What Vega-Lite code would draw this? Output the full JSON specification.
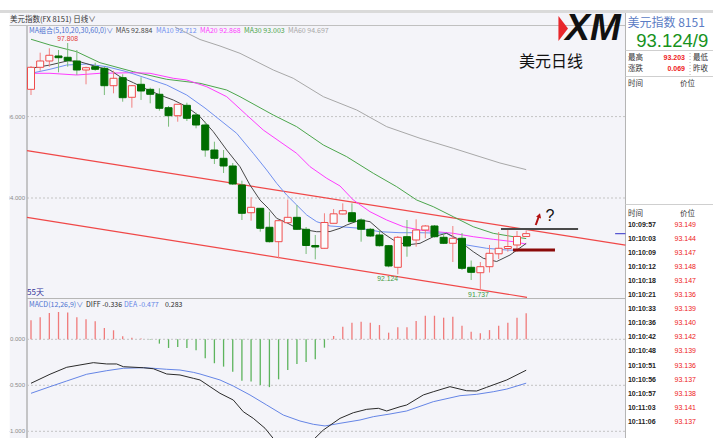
{
"$schema": "https://vega.github.io/schema/vega-lite/v6.json",
"width": 713, "height": 438,
"autosize": {"type": "none"},
"padding": 0,
"background": "#ffffff",
"config": {"view": {"stroke": null}},
"datasets": {
"candles": [
{"i":0,"o":96.670,"h":97.243,"l":96.530,"c":97.211},
{"i":1,"o":97.211,"h":97.570,"l":97.127,"c":97.366},
{"i":2,"o":97.366,"h":97.678,"l":97.226,"c":97.506},
{"i":3,"o":97.489,"h":97.636,"l":97.088,"c":97.447},
{"i":4,"o":97.457,"h":97.808,"l":97.226,"c":97.373},
{"i":5,"o":97.366,"h":97.636,"l":97.022,"c":97.145},
{"i":6,"o":97.145,"h":97.226,"l":96.793,"c":97.201},
{"i":7,"o":97.226,"h":97.324,"l":97.127,"c":97.162},
{"i":8,"o":97.186,"h":97.226,"l":96.530,"c":96.759},
{"i":9,"o":96.759,"h":97.127,"l":96.572,"c":96.941},
{"i":10,"o":96.955,"h":97.039,"l":96.366,"c":96.464},
{"i":11,"o":96.474,"h":96.776,"l":96.218,"c":96.759},
{"i":12,"o":96.793,"h":96.965,"l":96.408,"c":96.629},
{"i":13,"o":96.670,"h":96.710,"l":96.326,"c":96.548},
{"i":14,"o":96.548,"h":96.695,"l":96.145,"c":96.204},
{"i":15,"o":96.218,"h":96.260,"l":95.752,"c":96.022},
{"i":16,"o":96.022,"h":96.309,"l":95.874,"c":96.302},
{"i":17,"o":96.277,"h":96.341,"l":95.892,"c":95.958},
{"i":18,"o":96.039,"h":96.095,"l":95.712,"c":95.793},
{"i":19,"o":95.793,"h":95.874,"l":95.014,"c":95.179},
{"i":20,"o":95.179,"h":95.383,"l":94.835,"c":94.975},
{"i":21,"o":94.975,"h":95.179,"l":94.614,"c":94.786},
{"i":22,"o":94.786,"h":94.860,"l":94.319,"c":94.344},
{"i":23,"o":94.319,"h":94.425,"l":93.459,"c":93.624},
{"i":24,"o":93.638,"h":94.017,"l":93.442,"c":93.771},
{"i":25,"o":93.747,"h":93.754,"l":93.172,"c":93.255},
{"i":26,"o":93.280,"h":93.663,"l":92.906,"c":92.926},
{"i":27,"o":92.926,"h":93.459,"l":92.518,"c":93.442},
{"i":28,"o":93.393,"h":93.963,"l":93.378,"c":93.525},
{"i":29,"o":93.525,"h":93.828,"l":93.213,"c":93.231},
{"i":30,"o":93.231,"h":93.287,"l":92.624,"c":92.833},
{"i":31,"o":92.833,"h":93.091,"l":92.493,"c":92.796},
{"i":32,"o":92.764,"h":93.624,"l":92.759,"c":93.398},
{"i":33,"o":93.378,"h":93.729,"l":93.373,"c":93.611},
{"i":34,"o":93.607,"h":93.869,"l":93.595,"c":93.688},
{"i":35,"o":93.638,"h":93.869,"l":93.410,"c":93.417},
{"i":36,"o":93.459,"h":93.501,"l":92.926,"c":93.231},
{"i":37,"o":93.231,"h":93.263,"l":93.041,"c":93.066},
{"i":38,"o":93.091,"h":93.213,"l":92.808,"c":92.828},
{"i":39,"o":92.828,"h":92.845,"l":92.297,"c":92.329},
{"i":40,"o":92.297,"h":93.066,"l":92.124,"c":93.034},
{"i":41,"o":93.049,"h":93.459,"l":92.557,"c":92.820},
{"i":42,"o":92.968,"h":93.476,"l":92.803,"c":93.213},
{"i":43,"o":93.213,"h":93.336,"l":93.010,"c":93.312},
{"i":44,"o":93.312,"h":93.336,"l":93.029,"c":93.049},
{"i":45,"o":93.034,"h":93.140,"l":92.869,"c":92.887},
{"i":46,"o":92.887,"h":93.312,"l":92.427,"c":93.010},
{"i":47,"o":93.010,"h":93.140,"l":92.231,"c":92.272},
{"i":48,"o":92.297,"h":92.464,"l":91.985,"c":92.174},
{"i":49,"o":92.164,"h":92.427,"l":91.737,"c":92.312},
{"i":50,"o":92.312,"h":92.845,"l":92.169,"c":92.641},
{"i":51,"o":92.629,"h":93.164,"l":92.501,"c":92.764},
{"i":52,"o":92.759,"h":93.255,"l":92.680,"c":92.808},
{"i":53,"o":92.845,"h":93.189,"l":92.680,"c":93.055},
{"i":54,"o":93.055,"h":93.203,"l":93.040,"c":93.124}
],
"ma": [
{"s":"MA60","i":15.7,"p":98.20},{"s":"MA60","i":16.79,"p":98.078},{"s":"MA60","i":18.43,"p":97.894},{"s":"MA60","i":20.61,"p":97.734},{"s":"MA60","i":22.79,"p":97.555},{"s":"MA60","i":26.42,"p":97.145},{"s":"MA60","i":28.6,"p":96.941},{"s":"MA60","i":31.88,"p":96.489},{"s":"MA60","i":35.52,"p":96.162},{"s":"MA60","i":38.79,"p":95.752},{"s":"MA60","i":42.42,"p":95.467},{"s":"MA60","i":46.05,"p":95.221},{"s":"MA60","i":48.96,"p":95.014},{"s":"MA60","i":51.14,"p":94.860},{"s":"MA60","i":54,"p":94.697},
{"s":"MA30","i":0,"p":97.90},{"s":"MA30","i":2.07,"p":97.759},{"s":"MA30","i":4.98,"p":97.594},{"s":"MA30","i":7.52,"p":97.324},{"s":"MA30","i":11.16,"p":97.103},{"s":"MA30","i":14.8,"p":96.916},{"s":"MA30","i":18.43,"p":96.818},{"s":"MA30","i":21.34,"p":96.653},{"s":"MA30","i":22.79,"p":96.489},{"s":"MA30","i":26.42,"p":96.039},{"s":"MA30","i":28.97,"p":95.752},{"s":"MA30","i":31.88,"p":95.302},{"s":"MA30","i":34.43,"p":95.014},{"s":"MA30","i":37.33,"p":94.607},{"s":"MA30","i":39.88,"p":94.277},{"s":"MA30","i":42.06,"p":93.950},{"s":"MA30","i":43.87,"p":93.786},{"s":"MA30","i":46.05,"p":93.540},{"s":"MA30","i":48.23,"p":93.294},{"s":"MA30","i":50.41,"p":93.132},{"s":"MA30","i":52.6,"p":93.049},{"s":"MA30","i":54,"p":93.003},
{"s":"MA20","i":0,"p":97.064},{"s":"MA20","i":2.07,"p":97.064},{"s":"MA20","i":4.98,"p":97.022},{"s":"MA20","i":7.52,"p":97.064},{"s":"MA20","i":11.16,"p":97.078},{"s":"MA20","i":12.98,"p":97.064},{"s":"MA20","i":15.52,"p":96.941},{"s":"MA20","i":16.98,"p":96.899},{"s":"MA20","i":19.16,"p":96.734},{"s":"MA20","i":21.34,"p":96.489},{"s":"MA20","i":23.52,"p":96.039},{"s":"MA20","i":25.33,"p":95.670},{"s":"MA20","i":27.15,"p":95.383},{"s":"MA20","i":28.97,"p":95.098},{"s":"MA20","i":30.43,"p":94.769},{"s":"MA20","i":32.25,"p":94.484},{"s":"MA20","i":33.7,"p":94.295},{"s":"MA20","i":35.15,"p":93.950},{"s":"MA20","i":36.97,"p":93.663},{"s":"MA20","i":38.79,"p":93.459},{"s":"MA20","i":40.6,"p":93.295},{"s":"MA20","i":42.42,"p":93.213},{"s":"MA20","i":44.24,"p":93.171},{"s":"MA20","i":46.05,"p":93.132},{"s":"MA20","i":48.23,"p":93.049},{"s":"MA20","i":50.41,"p":92.985},{"s":"MA20","i":52.6,"p":92.926},{"s":"MA20","i":54,"p":92.868},
{"s":"MA10","i":0,"p":97.064},{"s":"MA10","i":2.07,"p":97.162},{"s":"MA10","i":3.89,"p":97.267},{"s":"MA10","i":6.07,"p":97.292},{"s":"MA10","i":8.26,"p":97.226},{"s":"MA10","i":10.44,"p":97.103},{"s":"MA10","i":12.62,"p":96.941},{"s":"MA10","i":14.8,"p":96.776},{"s":"MA10","i":16.98,"p":96.530},{"s":"MA10","i":18.97,"p":96.211},{"s":"MA10","i":20.61,"p":95.916},{"s":"MA10","i":22.43,"p":95.589},{"s":"MA10","i":24.24,"p":95.098},{"s":"MA10","i":25.7,"p":94.688},{"s":"MA10","i":26.79,"p":94.361},{"s":"MA10","i":27.88,"p":94.073},{"s":"MA10","i":28.97,"p":93.828},{"s":"MA10","i":30.07,"p":93.582},{"s":"MA10","i":31.16,"p":93.417},{"s":"MA10","i":32.61,"p":93.312},{"s":"MA10","i":33.7,"p":93.295},{"s":"MA10","i":35.88,"p":93.255},{"s":"MA10","i":38.06,"p":93.171},{"s":"MA10","i":40.24,"p":93.147},{"s":"MA10","i":42.42,"p":93.147},{"s":"MA10","i":45.33,"p":93.132},{"s":"MA10","i":47.51,"p":92.845},{"s":"MA10","i":49.69,"p":92.764},{"s":"MA10","i":51.88,"p":92.722},{"s":"MA10","i":54,"p":92.712},
{"s":"MA5","i":0,"p":97.186},{"s":"MA5","i":2.07,"p":97.267},{"s":"MA5","i":4.07,"p":97.373},{"s":"MA5","i":5.34,"p":97.348},{"s":"MA5","i":7.16,"p":97.226},{"s":"MA5","i":8.61,"p":97.145},{"s":"MA5","i":9.71,"p":96.980},{"s":"MA5","i":11.16,"p":96.833},{"s":"MA5","i":12.62,"p":96.670},{"s":"MA5","i":14.07,"p":96.530},{"s":"MA5","i":15.52,"p":96.407},{"s":"MA5","i":16.98,"p":96.243},{"s":"MA5","i":18.43,"p":95.997},{"s":"MA5","i":19.88,"p":95.629},{"s":"MA5","i":21.34,"p":95.179},{"s":"MA5","i":22.79,"p":94.769},{"s":"MA5","i":23.88,"p":94.319},{"s":"MA5","i":24.97,"p":93.950},{"s":"MA5","i":25.88,"p":93.746},{"s":"MA5","i":26.79,"p":93.501},{"s":"MA5","i":27.88,"p":93.393},{"s":"MA5","i":28.97,"p":93.262},{"s":"MA5","i":30.07,"p":93.213},{"s":"MA5","i":31.16,"p":93.171},{"s":"MA5","i":32.61,"p":93.176},{"s":"MA5","i":33.7,"p":93.255},{"s":"MA5","i":34.43,"p":93.336},{"s":"MA5","i":35.88,"p":93.459},{"s":"MA5","i":36.97,"p":93.418},{"s":"MA5","i":38.42,"p":93.132},{"s":"MA5","i":39.51,"p":92.968},{"s":"MA5","i":40.97,"p":92.845},{"s":"MA5","i":42.42,"p":92.886},{"s":"MA5","i":43.87,"p":93.049},{"s":"MA5","i":45.33,"p":93.132},{"s":"MA5","i":46.42,"p":93.009},{"s":"MA5","i":47.51,"p":92.803},{"s":"MA5","i":48.23,"p":92.680},{"s":"MA5","i":49.32,"p":92.518},{"s":"MA5","i":50.78,"p":92.439},{"s":"MA5","i":52.24,"p":92.599},{"s":"MA5","i":54,"p":92.884}
],
"hist": [
{"i":0,"h":0.207},{"i":1,"h":0.24},{"i":2,"h":0.286},{"i":3,"h":0.297},{"i":4,"h":0.29},{"i":5,"h":0.24},{"i":6,"h":0.217},{"i":7,"h":0.196},{"i":8,"h":0.123},{"i":9,"h":0.098},{"i":10,"h":0.033},{"i":11,"h":0.018},{"i":12,"h":0.008},{"i":13,"h":-0.004},{"i":14,"h":-0.047},{"i":15,"h":-0.094},{"i":16,"h":-0.083},{"i":17,"h":-0.094},{"i":18,"h":-0.12},{"i":19,"h":-0.207},{"i":20,"h":-0.26},{"i":21,"h":-0.297},{"i":22,"h":-0.352},{"i":23,"h":-0.45},{"i":24,"h":-0.46},{"i":25,"h":-0.497},{"i":26,"h":-0.52},{"i":27,"h":-0.435},{"i":28,"h":-0.333},{"i":29,"h":-0.268},{"i":30,"h":-0.247},{"i":31,"h":-0.217},{"i":32,"h":-0.091},{"i":33,"h":0.036},{"i":34,"h":0.137},{"i":35,"h":0.18},{"i":36,"h":0.19},{"i":37,"h":0.18},{"i":38,"h":0.155},{"i":39,"h":0.072},{"i":40,"h":0.13},{"i":41,"h":0.13},{"i":42,"h":0.2},{"i":43,"h":0.256},{"i":44,"h":0.256},{"i":45,"h":0.235},{"i":46,"h":0.245},{"i":47,"h":0.148},{"i":48,"h":0.083},{"i":49,"h":0.065},{"i":50,"h":0.10},{"i":51,"h":0.148},{"i":52,"h":0.18},{"i":53,"h":0.235},{"i":54,"h":0.283}
],
"macdlines": [
{"s":"DEA","i":0,"v":-0.587},{"s":"DEA","i":2.07,"v":-0.515},{"s":"DEA","i":3.9,"v":-0.453},{"s":"DEA","i":6.07,"v":-0.38},{"s":"DEA","i":8.26,"v":-0.341},{"s":"DEA","i":10.07,"v":-0.315},{"s":"DEA","i":12.25,"v":-0.309},{"s":"DEA","i":13.34,"v":-0.315},{"s":"DEA","i":14.8,"v":-0.326},{"s":"DEA","i":16.25,"v":-0.334},{"s":"DEA","i":17.7,"v":-0.359},{"s":"DEA","i":18.43,"v":-0.377},{"s":"DEA","i":20.61,"v":-0.442},{"s":"DEA","i":22.06,"v":-0.508},{"s":"DEA","i":23.88,"v":-0.605},{"s":"DEA","i":25.7,"v":-0.714},{"s":"DEA","i":27.51,"v":-0.823},{"s":"DEA","i":29.33,"v":-0.888},{"s":"DEA","i":30.79,"v":-0.924},{"s":"DEA","i":32.06,"v":-0.942},{"s":"DEA","i":33.7,"v":-0.913},{"s":"DEA","i":35.88,"v":-0.877},{"s":"DEA","i":37.33,"v":-0.841},{"s":"DEA","i":39.15,"v":-0.812},{"s":"DEA","i":40.97,"v":-0.779},{"s":"DEA","i":43.87,"v":-0.678},{"s":"DEA","i":46.78,"v":-0.613},{"s":"DEA","i":48.6,"v":-0.598},{"s":"DEA","i":50.41,"v":-0.57},{"s":"DEA","i":51.88,"v":-0.541},{"s":"DEA","i":54,"v":-0.477},
{"s":"DIFF","i":0,"v":-0.478},{"s":"DIFF","i":2.07,"v":-0.38},{"s":"DIFF","i":3.9,"v":-0.304},{"s":"DIFF","i":5.34,"v":-0.279},{"s":"DIFF","i":6.8,"v":-0.254},{"s":"DIFF","i":8.26,"v":-0.268},{"s":"DIFF","i":9.34,"v":-0.268},{"s":"DIFF","i":10.07,"v":-0.298},{"s":"DIFF","i":12.25,"v":-0.309},{"s":"DIFF","i":13.34,"v":-0.32},{"s":"DIFF","i":14.8,"v":-0.377},{"s":"DIFF","i":16.25,"v":-0.388},{"s":"DIFF","i":17.7,"v":-0.424},{"s":"DIFF","i":18.43,"v":-0.442},{"s":"DIFF","i":20.61,"v":-0.587},{"s":"DIFF","i":22.06,"v":-0.66},{"s":"DIFF","i":23.15,"v":-0.787},{"s":"DIFF","i":24.24,"v":-0.859},{"s":"DIFF","i":25.52,"v":-0.967},{"s":"DIFF","i":26.6,"v":-1.1},{"s":"DIFF","i":28.5,"v":-1.16},{"s":"DIFF","i":30.5,"v":-1.12},{"s":"DIFF","i":31.88,"v":-0.986},{"s":"DIFF","i":33.7,"v":-0.859},{"s":"DIFF","i":35.15,"v":-0.798},{"s":"DIFF","i":36.61,"v":-0.761},{"s":"DIFF","i":37.88,"v":-0.75},{"s":"DIFF","i":38.79,"v":-0.779},{"s":"DIFF","i":40.24,"v":-0.733},{"s":"DIFF","i":40.97,"v":-0.714},{"s":"DIFF","i":42.78,"v":-0.605},{"s":"DIFF","i":43.87,"v":-0.57},{"s":"DIFF","i":45.69,"v":-0.515},{"s":"DIFF","i":47.51,"v":-0.559},{"s":"DIFF","i":48.6,"v":-0.562},{"s":"DIFF","i":49.69,"v":-0.522},{"s":"DIFF","i":51.88,"v":-0.442},{"s":"DIFF","i":54,"v":-0.336}
],
"trend": [
{"s":"upper","i":-0.436,"p":95.162},{"s":"upper","i":64.83,"p":92.84},
{"s":"lower","i":-0.436,"p":93.525},{"s":"lower","i":54.09,"p":91.56}
],
"gridP": [{"p":96,"t":"96.000"},{"p":94,"t":"94.000"}],
"gridM": [{"v":0,"t":"0.000"},{"v":-0.5,"t":"-0.500"},{"v":-1,"t":"-1.000"}],
"maLegend": [
{"s":"MAS","t":"MA组合(5,10,20,30,60,0)∨","i":-0.218},
{"s":"MA5","t":"MA5 92.884","i":9.237},
{"s":"MA10","t":"MA10 92.712","i":13.63},
{"s":"MA20","t":"MA20 92.868","i":18.43},
{"s":"MA30","t":"MA30 93.003","i":23.23},
{"s":"MA60","t":"MA60 94.697","i":28.03}
],
"macdLegend": [
{"s":"MACD","t":"MACD(12,26,9)∨","i":-0.218},
{"s":"DIFF","t":"DIFF -0.336","i":6.0},
{"s":"DEA","t":"DEA -0.477","i":10.14},
{"s":"DIFF","t":"0.283","i":14.61}
],
"quotes": [
{"r":0,"t":"10:09:57","px":"93.149"},{"r":1,"t":"10:10:03","px":"93.144"},{"r":2,"t":"10:10:09","px":"93.147"},{"r":3,"t":"10:10:12","px":"93.148"},{"r":4,"t":"10:10:18","px":"93.147"},{"r":5,"t":"10:10:21","px":"93.136"},{"r":6,"t":"10:10:33","px":"93.139"},{"r":7,"t":"10:10:36","px":"93.140"},{"r":8,"t":"10:10:42","px":"93.142"},{"r":9,"t":"10:10:48","px":"93.139"},{"r":10,"t":"10:10:51","px":"93.136"},{"r":11,"t":"10:10:56","px":"93.137"},{"r":12,"t":"10:10:57","px":"93.138"},{"r":13,"t":"10:11:03","px":"93.141"},{"r":14,"t":"10:11:06","px":"93.137"}
],
"board": [
{"k":"name","t":"美元指数 8151","i":65.05,"r":-14.41},
{"k":"big","t":"93.124/9","i":66.0,"r":-13.13},
{"k":"lbl","t":"最高","i":65.1,"r":-11.89},
{"k":"lbl","t":"涨跌","i":65.1,"r":-11.10},
{"k":"lbl","t":"最低","i":72.19,"r":-11.89},
{"k":"lbl","t":"昨收","i":72.19,"r":-11.10},
{"k":"val","t":"93.203","i":71.32,"r":-11.89},
{"k":"val","t":"0.069","i":71.32,"r":-11.10},
{"k":"hdrL","t":"时间","i":65.1,"r":-10.0},
{"k":"hdrR","t":"价位","i":72.41,"r":-10.0},
{"k":"hdrL","t":"时间","i":65.1,"r":-0.78},
{"k":"hdrR","t":"价位","i":72.41,"r":-0.78}
]
},
"layer": [
 {"data":{"values":[{}]},"mark":{"type":"rect","fill":"#f4f4f9"},
  "encoding":{"x":{"datum":-2.345,"type":"quantitative","scale":{"domain":[-3.3806,74.373],"nice":false,"zero":false,"padding":0},"axis":null},"x2":{"datum":64.83},
   "y":{"datum":98.545,"type":"quantitative","scale":{"domain":[88.103,98.8645],"nice":false,"zero":false,"padding":0},"axis":null},"y2":{"datum":88.103}}},
 {"data":{"values":[{}]},"mark":{"type":"rect","fill":"#dadada"},
  "encoding":{"x":{"datum":-3.3806,"type":"quantitative","scale":{"domain":[-3.3806,74.373],"nice":false,"zero":false,"padding":0},"axis":null},"x2":{"datum":74.373},
   "y":{"datum":98.619,"type":"quantitative","scale":{"domain":[88.103,98.8645],"nice":false,"zero":false,"padding":0},"axis":null},"y2":{"datum":98.545}}},
 {"data":{"name":"gridP"},"mark":{"type":"rule","stroke":"#c4c4c4","strokeDash":[2,2],"strokeWidth":1},
  "encoding":{"x":{"datum":-0.436,"type":"quantitative","scale":{"domain":[-3.3806,74.373],"nice":false,"zero":false,"padding":0},"axis":null},"x2":{"datum":64.83},
   "y":{"field":"p","type":"quantitative","scale":{"domain":[88.103,98.8645],"nice":false,"zero":false,"padding":0},"axis":null}}},
 {"data":{"name":"gridP"},"mark":{"type":"text","align":"right","baseline":"middle","fontSize":6,"fill":"#8a8a8a","font":"Liberation Sans"},
  "encoding":{"x":{"datum":-0.654,"type":"quantitative","scale":{"domain":[-3.3806,74.373],"nice":false,"zero":false,"padding":0},"axis":null},
   "y":{"field":"p","type":"quantitative","scale":{"domain":[88.103,98.8645],"nice":false,"zero":false,"padding":0},"axis":null},"text":{"field":"t"}}},
 {"data":{"values":[{}]},"mark":{"type":"rule","stroke":"#b5b5b5","strokeWidth":1.5},
  "encoding":{"x":{"datum":-0.436,"type":"quantitative","scale":{"domain":[-3.3806,74.373],"nice":false,"zero":false,"padding":0},"axis":null},
   "y":{"datum":98.238,"type":"quantitative","scale":{"domain":[88.103,98.8645],"nice":false,"zero":false,"padding":0},"axis":null},"y2":{"datum":88.103}}},
 {"data":{"values":[{}]},"mark":{"type":"rule","stroke":"#c0c0c0","strokeWidth":1},
  "encoding":{"x":{"datum":-3.3806,"type":"quantitative","scale":{"domain":[-3.3806,74.373],"nice":false,"zero":false,"padding":0},"axis":null},"x2":{"datum":64.83},
   "y":{"datum":98.238,"type":"quantitative","scale":{"domain":[88.103,98.8645],"nice":false,"zero":false,"padding":0},"axis":null}}},
 {"data":{"values":[{}]},"mark":{"type":"rule","stroke":"#b5b5b5","strokeWidth":1},
  "encoding":{"x":{"datum":-0.436,"type":"quantitative","scale":{"domain":[-3.3806,74.373],"nice":false,"zero":false,"padding":0},"axis":null},"x2":{"datum":64.83},
   "y":{"datum":91.530,"type":"quantitative","scale":{"domain":[88.103,98.8645],"nice":false,"zero":false,"padding":0},"axis":null}}},
 {"data":{"values":[{}]},"mark":{"type":"rule","stroke":"#b5b5b5","strokeWidth":1},
  "encoding":{"x":{"datum":64.83,"type":"quantitative","scale":{"domain":[-3.3806,74.373],"nice":false,"zero":false,"padding":0},"axis":null},
   "y":{"datum":98.545,"type":"quantitative","scale":{"domain":[88.103,98.8645],"nice":false,"zero":false,"padding":0},"axis":null},"y2":{"datum":88.103}}},
 {"data":{"name":"gridM"},"mark":{"type":"rule","stroke":"#c4c4c4","strokeDash":[2,2],"strokeWidth":1},
  "encoding":{"x":{"datum":-0.436,"type":"quantitative","scale":{"domain":[-3.3806,74.373],"nice":false,"zero":false,"padding":0},"axis":null},"x2":{"datum":64.83},
   "y":{"field":"v","type":"quantitative","scale":{"domain":[-1.0728,3.688],"nice":false,"zero":false,"padding":0},"axis":null}}},
 {"data":{"name":"gridM"},"mark":{"type":"text","align":"right","baseline":"middle","fontSize":6,"fill":"#8a8a8a","font":"Liberation Sans"},
  "encoding":{"x":{"datum":-0.654,"type":"quantitative","scale":{"domain":[-3.3806,74.373],"nice":false,"zero":false,"padding":0},"axis":null},
   "y":{"field":"v","type":"quantitative","scale":{"domain":[-1.0728,3.688],"nice":false,"zero":false,"padding":0},"axis":null},"text":{"field":"t"}}},
 {"data":{"name":"trend"},"mark":{"type":"line","stroke":"#f04848","strokeWidth":1.2},
  "encoding":{"x":{"field":"i","type":"quantitative","scale":{"domain":[-3.3806,74.373],"nice":false,"zero":false,"padding":0},"axis":null},
   "y":{"field":"p","type":"quantitative","scale":{"domain":[88.103,98.8645],"nice":false,"zero":false,"padding":0},"axis":null},"detail":{"field":"s"}}},
 {"data":{"name":"ma"},"mark":{"type":"line","strokeWidth":1},
  "encoding":{"x":{"field":"i","type":"quantitative","scale":{"domain":[-3.3806,74.373],"nice":false,"zero":false,"padding":0},"axis":null},
   "y":{"field":"p","type":"quantitative","scale":{"domain":[88.103,98.8645],"nice":false,"zero":false,"padding":0},"axis":null},
   "color":{"field":"s","type":"nominal","legend":null,"scale":{"domain":["MA5","MA10","MA20","MA30","MA60","MAS","DIFF","DEA","MACD"],"range":["#484848","#7090f0","#ff3cff","#4ca64c","#a8a8a8","#4d72d0","#2a2a2a","#6585e6","#4d72d0"]}}}},
 {"data":{"name":"candles"},"mark":{"type":"rule","strokeWidth":1},
  "encoding":{"x":{"field":"i","type":"quantitative","scale":{"domain":[-3.3806,74.373],"nice":false,"zero":false,"padding":0},"axis":null},
   "y":{"field":"l","type":"quantitative","scale":{"domain":[88.103,98.8645],"nice":false,"zero":false,"padding":0},"axis":null},"y2":{"field":"h"},
   "color":{"condition":{"test":"datum.c >= datum.o","value":"#f28080"},"value":"#79bb79"}}},
 {"data":{"name":"candles"},"mark":{"type":"bar","size":7,"strokeWidth":1},
  "encoding":{"x":{"field":"i","type":"quantitative","scale":{"domain":[-3.3806,74.373],"nice":false,"zero":false,"padding":0},"axis":null},
   "y":{"field":"o","type":"quantitative","scale":{"domain":[88.103,98.8645],"nice":false,"zero":false,"padding":0},"axis":null},"y2":{"field":"c"},
   "fill":{"condition":{"test":"datum.c >= datum.o","value":"#fbfbfd"},"value":"#006d00"},
   "stroke":{"condition":{"test":"datum.c >= datum.o","value":"#ef4c4c"},"value":"#006d00"}}},
 {"data":{"name":"hist"},"mark":{"type":"rule","strokeWidth":1.3},
  "encoding":{"x":{"field":"i","type":"quantitative","scale":{"domain":[-3.3806,74.373],"nice":false,"zero":false,"padding":0},"axis":null},
   "y":{"field":"h","type":"quantitative","scale":{"domain":[-1.0728,3.688],"nice":false,"zero":false,"padding":0},"axis":null},"y2":{"datum":0},
   "color":{"condition":{"test":"datum.h >= 0","value":"#f07b7b"},"value":"#5db45d"}}},
 {"data":{"name":"macdlines"},"mark":{"type":"line","strokeWidth":1},
  "encoding":{"x":{"field":"i","type":"quantitative","scale":{"domain":[-3.3806,74.373],"nice":false,"zero":false,"padding":0},"axis":null},
   "y":{"field":"v","type":"quantitative","scale":{"domain":[-1.0728,3.688],"nice":false,"zero":false,"padding":0},"axis":null},
   "color":{"field":"s","type":"nominal","legend":null,"scale":{"domain":["MA5","MA10","MA20","MA30","MA60","MAS","DIFF","DEA","MACD"],"range":["#484848","#7090f0","#ff3cff","#4ca64c","#a8a8a8","#4d72d0","#2a2a2a","#6585e6","#4d72d0"]}}}},
 {"data":{"values":[{"i":51.25,"i2":59.66,"p":93.238}]},"mark":{"type":"rule","stroke":"#4a4a4a","strokeWidth":2},
  "encoding":{"x":{"field":"i","type":"quantitative","scale":{"domain":[-3.3806,74.373],"nice":false,"zero":false,"padding":0},"axis":null},"x2":{"field":"i2"},
   "y":{"field":"p","type":"quantitative","scale":{"domain":[88.103,98.8645],"nice":false,"zero":false,"padding":0},"axis":null}}},
 {"data":{"values":[{"i":52.56,"i2":57.14,"p":92.722}]},"mark":{"type":"rule","stroke":"#8b0a0a","strokeWidth":3},
  "encoding":{"x":{"field":"i","type":"quantitative","scale":{"domain":[-3.3806,74.373],"nice":false,"zero":false,"padding":0},"axis":null},"x2":{"field":"i2"},
   "y":{"field":"p","type":"quantitative","scale":{"domain":[88.103,98.8645],"nice":false,"zero":false,"padding":0},"axis":null}}},
 {"data":{"values":[{"i":55.04,"i2":55.36,"p":93.336,"p2":93.533}]},"mark":{"type":"rule","stroke":"#b31212","strokeWidth":2},
  "encoding":{"x":{"field":"i","type":"quantitative","scale":{"domain":[-3.3806,74.373],"nice":false,"zero":false,"padding":0},"axis":null},"x2":{"field":"i2"},
   "y":{"field":"p","type":"quantitative","scale":{"domain":[88.103,98.8645],"nice":false,"zero":false,"padding":0},"axis":null},"y2":{"field":"p2"}}},
 {"data":{"values":[{"i":55.43,"p":93.57}]},"mark":{"type":"point","shape":"triangle-up","filled":true,"fill":"#b31212","size":28,"angle":18,"opacity":1},
  "encoding":{"x":{"field":"i","type":"quantitative","scale":{"domain":[-3.3806,74.373],"nice":false,"zero":false,"padding":0},"axis":null},
   "y":{"field":"p","type":"quantitative","scale":{"domain":[88.103,98.8645],"nice":false,"zero":false,"padding":0},"axis":null}}},
 {"data":{"values":[{"t":"美元日线","i":56.7,"p":97.341}]},"mark":{"type":"text","font":"Noto Sans CJK SC","fontSize":16,"fill":"#111111","align":"center","baseline":"middle"},
  "encoding":{"x":{"field":"i","type":"quantitative","scale":{"domain":[-3.3806,74.373],"nice":false,"zero":false,"padding":0},"axis":null},
   "y":{"field":"p","type":"quantitative","scale":{"domain":[88.103,98.8645],"nice":false,"zero":false,"padding":0},"axis":null},"text":{"field":"t"}}},
 {"data":{"values":[{"t":"?","i":56.6,"p":93.557}]},"mark":{"type":"text","font":"Liberation Sans","fontSize":16,"fill":"#111111","align":"center","baseline":"middle"},
  "encoding":{"x":{"field":"i","type":"quantitative","scale":{"domain":[-3.3806,74.373],"nice":false,"zero":false,"padding":0},"axis":null},
   "y":{"field":"p","type":"quantitative","scale":{"domain":[88.103,98.8645],"nice":false,"zero":false,"padding":0},"axis":null},"text":{"field":"t"}}},
 {"data":{"values":[{"t":"97.808","i":4,"p":97.808}]},"mark":{"type":"text","font":"Liberation Sans","fontSize":6.8,"fill":"#e23b3b","align":"center","baseline":"bottom","dy":-1.5},
  "encoding":{"x":{"field":"i","type":"quantitative","scale":{"domain":[-3.3806,74.373],"nice":false,"zero":false,"padding":0},"axis":null},
   "y":{"field":"p","type":"quantitative","scale":{"domain":[88.103,98.8645],"nice":false,"zero":false,"padding":0},"axis":null},"text":{"field":"t"}}},
 {"data":{"values":[{"t":"92.124","i":38.9,"p":92.124},{"t":"91.737","i":48.8,"p":91.737}]},"mark":{"type":"text","font":"Liberation Sans","fontSize":6.8,"fill":"#3e9a3e","align":"center","baseline":"top","dy":2},
  "encoding":{"x":{"field":"i","type":"quantitative","scale":{"domain":[-3.3806,74.373],"nice":false,"zero":false,"padding":0},"axis":null},
   "y":{"field":"p","type":"quantitative","scale":{"domain":[88.103,98.8645],"nice":false,"zero":false,"padding":0},"axis":null},"text":{"field":"t"}}},
 {"data":{"name":"maLegend"},"mark":{"type":"text","font":"Noto Sans CJK SC","fontSize":7,"align":"left","baseline":"middle"},
  "encoding":{"x":{"field":"i","type":"quantitative","scale":{"domain":[-3.3806,74.373],"nice":false,"zero":false,"padding":0},"axis":null},
   "y":{"datum":98.115,"type":"quantitative","scale":{"domain":[88.103,98.8645],"nice":false,"zero":false,"padding":0},"axis":null},"text":{"field":"t"},
   "color":{"field":"s","type":"nominal","legend":null,"scale":{"domain":["MA5","MA10","MA20","MA30","MA60","MAS","DIFF","DEA","MACD"],"range":["#484848","#7090f0","#ff3cff","#4ca64c","#a8a8a8","#4d72d0","#2a2a2a","#6585e6","#4d72d0"]}}}},
 {"data":{"values":[{"t":"美元指数(FX 8151)  日线∨","i":-2.29,"p":98.385}]},"mark":{"type":"text","font":"Noto Sans CJK SC","fontSize":7.5,"fill":"#333333","align":"left","baseline":"middle"},
  "encoding":{"x":{"field":"i","type":"quantitative","scale":{"domain":[-3.3806,74.373],"nice":false,"zero":false,"padding":0},"axis":null},
   "y":{"field":"p","type":"quantitative","scale":{"domain":[88.103,98.8645],"nice":false,"zero":false,"padding":0},"axis":null},"text":{"field":"t"}}},
 {"data":{"name":"macdLegend"},"mark":{"type":"text","font":"Noto Sans CJK SC","fontSize":7,"align":"left","baseline":"middle"},
  "encoding":{"x":{"field":"i","type":"quantitative","scale":{"domain":[-3.3806,74.373],"nice":false,"zero":false,"padding":0},"axis":null},
   "y":{"datum":0.373,"type":"quantitative","scale":{"domain":[-1.0728,3.688],"nice":false,"zero":false,"padding":0},"axis":null},"text":{"field":"t"},
   "color":{"field":"s","type":"nominal","legend":null,"scale":{"domain":["MA5","MA10","MA20","MA30","MA60","MAS","DIFF","DEA","MACD"],"range":["#484848","#7090f0","#ff3cff","#4ca64c","#a8a8a8","#4d72d0","#2a2a2a","#6585e6","#4d72d0"]}}}},
 {"data":{"values":[{"t":"55天","i":-0.436,"v":0.498}]},"mark":{"type":"text","font":"Noto Sans CJK SC","fontSize":8,"fill":"#34349a","align":"left","baseline":"middle"},
  "encoding":{"x":{"field":"i","type":"quantitative","scale":{"domain":[-3.3806,74.373],"nice":false,"zero":false,"padding":0},"axis":null},
   "y":{"field":"v","type":"quantitative","scale":{"domain":[-1.0728,3.688],"nice":false,"zero":false,"padding":0},"axis":null},"text":{"field":"t"}}},
 {"data":{"values":[{"i":63.7,"i2":64.83,"p":93.124}]},"mark":{"type":"rule","stroke":"#5050d0","strokeWidth":1.2},
  "encoding":{"x":{"field":"i","type":"quantitative","scale":{"domain":[-3.3806,74.373],"nice":false,"zero":false,"padding":0},"axis":null},"x2":{"field":"i2"},
   "y":{"field":"p","type":"quantitative","scale":{"domain":[88.103,98.8645],"nice":false,"zero":false,"padding":0},"axis":null}}},
 {"data":{"values":[{"i":57.52,"t":98.471,"b":97.857},{"i":58.56,"t":98.164,"b":98.164}]},"mark":{"type":"area","fill":"#e8262b","opacity":1,"line":false},
  "encoding":{"x":{"field":"i","type":"quantitative","scale":{"domain":[-3.3806,74.373],"nice":false,"zero":false,"padding":0},"axis":null},
   "y":{"field":"t","type":"quantitative","scale":{"domain":[88.103,98.8645],"nice":false,"zero":false,"padding":0},"axis":null},"y2":{"field":"b"}}},
 {"data":{"values":[{"t":"XM","i":61.29,"p":98.164}]},"mark":{"type":"text","font":"Liberation Sans","fontSize":37,"fontWeight":900,"fontStyle":"italic","fill":"#111111","align":"center","baseline":"middle"},
  "encoding":{"x":{"field":"i","type":"quantitative","scale":{"domain":[-3.3806,74.373],"nice":false,"zero":false,"padding":0},"axis":null},
   "y":{"field":"p","type":"quantitative","scale":{"domain":[88.103,98.8645],"nice":false,"zero":false,"padding":0},"axis":null},"text":{"field":"t"}}},
 {"data":{"values":[{}]},"mark":{"type":"rect","fill":"#ffffff"},
  "encoding":{"x":{"datum":-3.3806,"type":"quantitative","scale":{"domain":[-3.3806,74.373],"nice":false,"zero":false,"padding":0},"axis":null},"x2":{"datum":-2.345},
   "y":{"datum":-15.09,"type":"quantitative","scale":{"domain":[-16.014,15.16],"reverse":true,"nice":false,"zero":false,"padding":0},"axis":null},"y2":{"datum":15.16}}},
 {"data":{"values":[{"r":-12.42},{"r":-10.57},{"r":-1.46}]},"mark":{"type":"rule","stroke":"#cfcfcf","strokeWidth":1},
  "encoding":{"x":{"datum":64.83,"type":"quantitative","scale":{"domain":[-3.3806,74.373],"nice":false,"zero":false,"padding":0},"axis":null},"x2":{"datum":74.373},
   "y":{"field":"r","type":"quantitative","scale":{"domain":[-16.014,15.16],"reverse":true,"nice":false,"zero":false,"padding":0},"axis":null}}},
 {"data":{"values":[{"i":71.87,"r":-12.24,"r2":-10.68}]},"mark":{"type":"rule","stroke":"#b0b0b0","strokeDash":[1,2],"strokeWidth":1},
  "encoding":{"x":{"field":"i","type":"quantitative","scale":{"domain":[-3.3806,74.373],"nice":false,"zero":false,"padding":0},"axis":null},
   "y":{"field":"r","type":"quantitative","scale":{"domain":[-16.014,15.16],"reverse":true,"nice":false,"zero":false,"padding":0},"axis":null},"y2":{"field":"r2"}}},
 {"data":{"name":"board"},"transform":[{"filter":"datum.k == 'name'"}],"mark":{"type":"text","font":"Noto Sans CJK SC","fontSize":12,"fill":"#5b7cc4","align":"left","baseline":"middle"},
  "encoding":{"x":{"field":"i","type":"quantitative","scale":{"domain":[-3.3806,74.373],"nice":false,"zero":false,"padding":0},"axis":null},
   "y":{"field":"r","type":"quantitative","scale":{"domain":[-16.014,15.16],"reverse":true,"nice":false,"zero":false,"padding":0},"axis":null},"text":{"field":"t"}}},
 {"data":{"name":"board"},"transform":[{"filter":"datum.k == 'big'"}],"mark":{"type":"text","font":"Liberation Sans","fontSize":18.5,"fill":"#16921c","align":"left","baseline":"middle"},
  "encoding":{"x":{"field":"i","type":"quantitative","scale":{"domain":[-3.3806,74.373],"nice":false,"zero":false,"padding":0},"axis":null},
   "y":{"field":"r","type":"quantitative","scale":{"domain":[-16.014,15.16],"reverse":true,"nice":false,"zero":false,"padding":0},"axis":null},"text":{"field":"t"}}},
 {"data":{"name":"board"},"transform":[{"filter":"datum.k == 'lbl' || datum.k == 'hdrL'"}],"mark":{"type":"text","font":"Noto Sans CJK SC","fontSize":7.5,"fill":"#333333","align":"left","baseline":"middle"},
  "encoding":{"x":{"field":"i","type":"quantitative","scale":{"domain":[-3.3806,74.373],"nice":false,"zero":false,"padding":0},"axis":null},
   "y":{"field":"r","type":"quantitative","scale":{"domain":[-16.014,15.16],"reverse":true,"nice":false,"zero":false,"padding":0},"axis":null},"text":{"field":"t"}}},
 {"data":{"name":"board"},"transform":[{"filter":"datum.k == 'hdrR'"}],"mark":{"type":"text","font":"Noto Sans CJK SC","fontSize":7.5,"fill":"#333333","align":"right","baseline":"middle"},
  "encoding":{"x":{"field":"i","type":"quantitative","scale":{"domain":[-3.3806,74.373],"nice":false,"zero":false,"padding":0},"axis":null},
   "y":{"field":"r","type":"quantitative","scale":{"domain":[-16.014,15.16],"reverse":true,"nice":false,"zero":false,"padding":0},"axis":null},"text":{"field":"t"}}},
 {"data":{"name":"board"},"transform":[{"filter":"datum.k == 'val'"}],"mark":{"type":"text","font":"Liberation Sans","fontSize":7,"fontWeight":"bold","fill":"#ee2222","align":"right","baseline":"middle"},
  "encoding":{"x":{"field":"i","type":"quantitative","scale":{"domain":[-3.3806,74.373],"nice":false,"zero":false,"padding":0},"axis":null},
   "y":{"field":"r","type":"quantitative","scale":{"domain":[-16.014,15.16],"reverse":true,"nice":false,"zero":false,"padding":0},"axis":null},"text":{"field":"t"}}},
 {"data":{"name":"quotes"},"mark":{"type":"text","font":"Liberation Sans","fontSize":7,"fontWeight":"bold","fill":"#222222","align":"left","baseline":"middle"},
  "encoding":{"x":{"datum":65.1,"type":"quantitative","scale":{"domain":[-3.3806,74.373],"nice":false,"zero":false,"padding":0},"axis":null},
   "y":{"field":"r","type":"quantitative","scale":{"domain":[-16.014,15.16],"reverse":true,"nice":false,"zero":false,"padding":0},"axis":null},"text":{"field":"t"}}},
 {"data":{"name":"quotes"},"mark":{"type":"text","font":"Liberation Sans","fontSize":7,"fill":"#ee2020","align":"right","baseline":"middle"},
  "encoding":{"x":{"datum":72.52,"type":"quantitative","scale":{"domain":[-3.3806,74.373],"nice":false,"zero":false,"padding":0},"axis":null},
   "y":{"field":"r","type":"quantitative","scale":{"domain":[-16.014,15.16],"reverse":true,"nice":false,"zero":false,"padding":0},"axis":null},"text":{"field":"px"}}}
],
"resolve": {"scale": {"y": "independent"}}
}
